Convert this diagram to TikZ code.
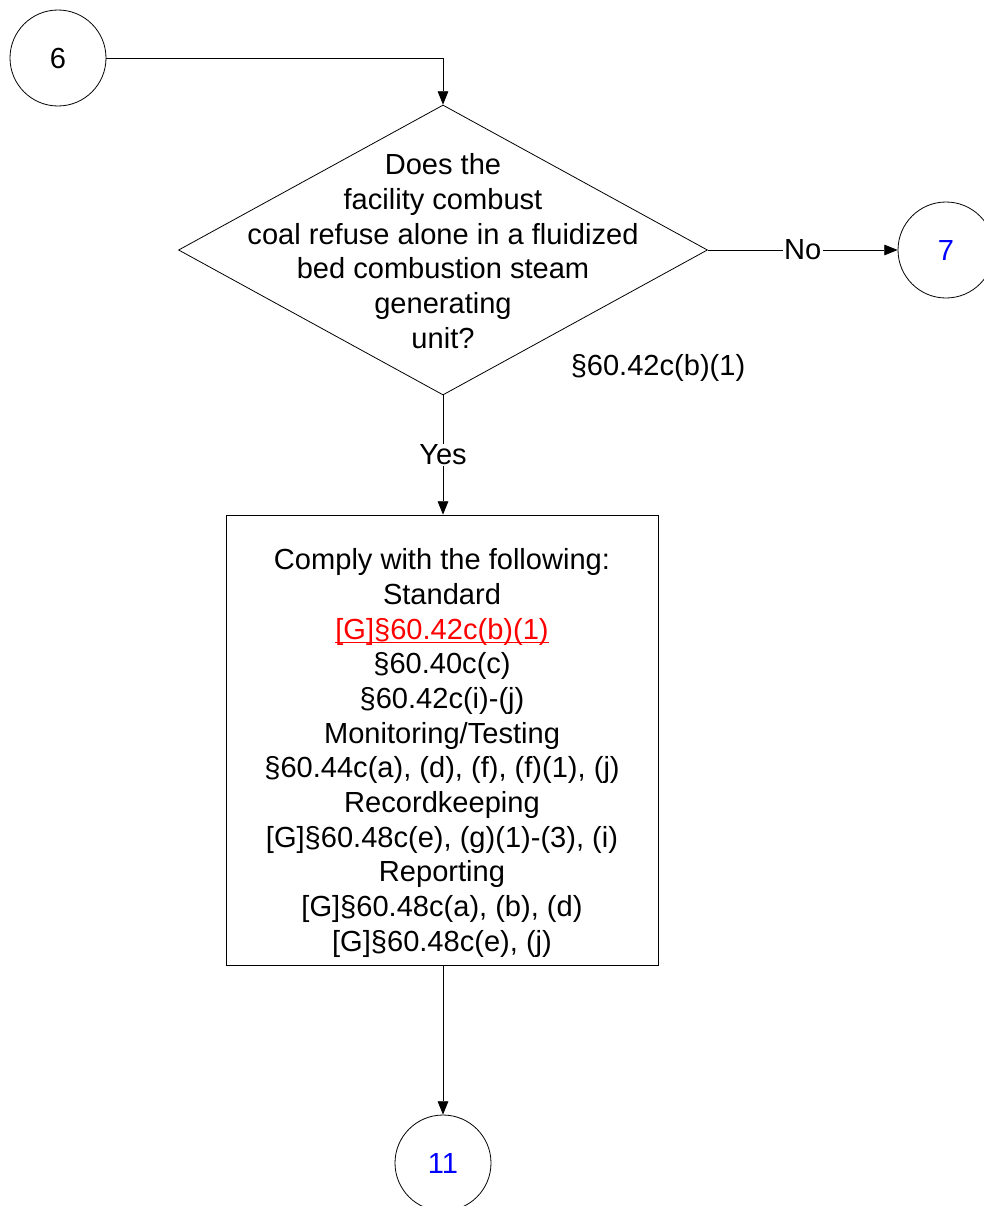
\documentclass[tikz,border=0pt]{standalone}
\usepackage{fontspec}
\setmainfont{Liberation Sans}
\usetikzlibrary{shapes.geometric,arrows.meta}
\definecolor{linkred}{RGB}{255,0,0}
\definecolor{linkblue}{RGB}{0,0,255}
\newcommand{\redlink}[1]{{\color{linkred}\setbox0\hbox{#1}\rlap{\rule[-3pt]{\wd0}{0.8pt}}\box0}}
\begin{document}
\begin{tikzpicture}[x=0.75pt,y=-0.75pt,
  every node/.style={font=\fontsize{21.8}{26}\selectfont},
  conn/.style={draw, circle, minimum size=72pt, inner sep=0pt, line width=0.6pt},
  dec/.style={draw, diamond, minimum width=396.75pt, minimum height=217.5pt, inner sep=0pt, line width=0.6pt},
  procbox/.style={draw, rectangle, minimum width=324pt, minimum height=337.5pt, inner sep=0pt, line width=0.6pt},
  flow/.style={line width=0.6pt, -{Triangle[length=10pt,width=8pt]}},
  lbl/.style={fill=white, inner sep=1pt}]
\useasboundingbox (0,0) rectangle (984,1206);
\clip (0,0) rectangle (984,1206);
\node[conn] (c6) at (58,58) {6};
\node[dec] (dia) at (443,250) {};
\node[align=center] (diatext) at (443,251) {Does the\\facility combust\\coal refuse alone in a fluidized\\bed combustion steam\\generating\\unit?};
\node (ref) at (658,368) {§60.42c(b)(1)};
\node[conn, text=linkblue] (c7) at (946,250) {7};
\node[procbox] (box) at (442,740) {};
\node[align=center] (boxtext) at (442,753) {Comply with the following:\\Standard\\\redlink{[G]§60.42c(b)(1)}\\§60.40c(c)\\§60.42c(i)-(j)\\Monitoring/Testing\\§60.44c(a), (d), (f), (f)(1), (j)\\Recordkeeping\\{[G]§60.48c(e), (g)(1)-(3), (i)}\\Reporting\\{[G]§60.48c(a), (b), (d)}\\{[G]§60.48c(e), (j)}};
\node[conn, text=linkblue] (c11) at (443,1163) {11};
\draw[flow] (c6.east) -| (dia.north);
\draw[flow] (dia.east) -- node[lbl] (no) {No} (c7.west);
\draw[flow] (dia.south) -- node[lbl] (yes) {Yes} (box.north -| dia.south);
\draw[flow] (box.south -| c11.north) -- (c11.north);
\end{tikzpicture}
\end{document}
